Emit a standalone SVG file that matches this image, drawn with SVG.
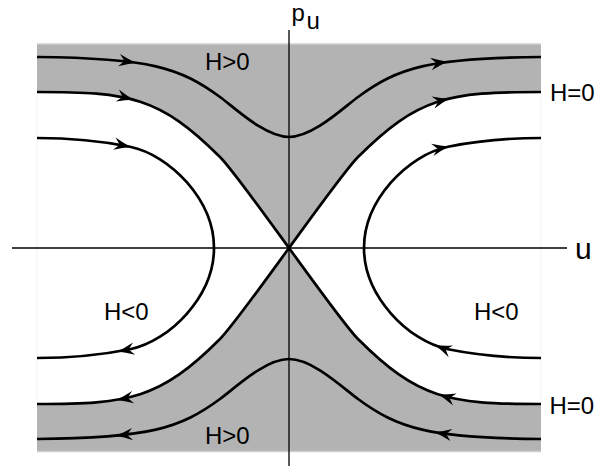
<svg xmlns="http://www.w3.org/2000/svg" xmlns:xlink="http://www.w3.org/1999/xlink" width="600" height="468" viewBox="0 0 600 468">
<style>
.shade{fill:#b3b3b3;stroke:none}
.edge{stroke:#cfcfcf;stroke-width:1.5;fill:none}
.side{stroke:#f2f2f2;stroke-width:1;fill:none}
.axis{stroke:#000;stroke-width:1.3;fill:none}
.curve{stroke:#000;stroke-width:2.7;fill:none;stroke-linejoin:round}
.lbl{font-family:"Liberation Sans",Arial,sans-serif;font-size:24px;fill:#000}
</style>
<defs>
<path id="ah" d="M1,0 Q-7,-2.2 -16,-6.2 L-10.5,0 L-16,6.2 Q-7,2.2 1,0 Z" fill="#000"/>
</defs>
<g id="regions">
<path class="shade" d="M37,44 H541 V92 C448,92 418,97 358,157 C346,169 308,222 289,248 C270,222 232,169 220,157 C160,97 130,92 37,92 Z"/>
<path class="shade" d="M37,451.5 H541 V404 C448,404 418,399 358,339 C346,327 308,274 289,248 C270,274 232,327 220,339 C160,399 130,404 37,404 Z"/>
<line class="edge" x1="37" y1="44" x2="541" y2="44"/>
<line class="edge" x1="37" y1="451.5" x2="541" y2="451.5"/>
<line class="side" x1="37" y1="92" x2="37" y2="404"/>
<line class="side" x1="541" y1="92" x2="541" y2="404"/>
</g>
<g id="axes">
<line class="axis" x1="289" y1="30" x2="289" y2="466"/>
<line class="axis" x1="12" y1="248" x2="567" y2="248"/>
</g>
<g id="connectors">
<path class="curve" d="M37,57 C150,58 180,67.7 220,97 C235,108 265,137 289,137 C313,137 343,108 358,97 C398,67.7 428,58 541,57"/>
<path class="curve" d="M37,92 C130,92 160,97 220,157 C232,169 270,222 289,248 C308,222 346,169 358,157 C418,97 448,92 541,92"/>
<path class="curve" d="M37,138 C60,138 90,138.7 130,146.7 C170,155 214,200 214,248 C214,296 170,341 130,349.3 C90,357.3 60,358 37,358"/>
<path class="curve" d="M541,138 C518,138 488,138.7 448,146.7 C408,155 364,200 364,248 C364,296 408,341 448,349.3 C488,357.3 518,358 541,358"/>
<path class="curve" d="M37,404 C130,404 160,399 220,339 C232,327 270,274 289,248 C308,274 346,327 358,339 C418,399 448,404 541,404"/>
<path class="curve" d="M37,439 C150,438 180,428.3 220,399 C235,388 265,359 289,359 C313,359 343,388 358,399 C398,428.3 428,438 541,439"/>
<use xlink:href="#ah" transform="translate(134.9,62.5) rotate(8.3)"/>
<use xlink:href="#ah" transform="translate(446.8,61.9) rotate(-7.6)"/>
<use xlink:href="#ah" transform="translate(132.8,99.6) rotate(14.8)"/>
<use xlink:href="#ah" transform="translate(448.6,98.8) rotate(-13.6)"/>
<use xlink:href="#ah" transform="translate(130,146.7) rotate(11.3)"/>
<use xlink:href="#ah" transform="translate(448,146.7) rotate(-11.3)"/>
<use xlink:href="#ah" transform="translate(118.3,351.4) rotate(170.1)"/>
<use xlink:href="#ah" transform="translate(435.9,345.7) rotate(200.8)"/>
<use xlink:href="#ah" transform="translate(117.3,399.8) rotate(170.4)"/>
<use xlink:href="#ah" transform="translate(439.5,394.8) rotate(197.1)"/>
<use xlink:href="#ah" transform="translate(116.6,435.7) rotate(174.5)"/>
<use xlink:href="#ah" transform="translate(435.7,432.3) rotate(189.7)"/>
</g>
<g id="labels">
<text class="lbl" x="205" y="69.5">H&gt;0</text>
<text class="lbl" x="205" y="444">H&gt;0</text>
<text class="lbl" x="104" y="320">H&lt;0</text>
<text class="lbl" x="474" y="320">H&lt;0</text>
<text class="lbl" x="550" y="100.5">H=0</text>
<text class="lbl" x="549.5" y="414">H=0</text>
<text class="lbl" x="291.5" y="21">p</text>
<text class="lbl" x="306.5" y="28.5">u</text>
<text class="lbl" x="575" y="259" style="font-size:30px">u</text>
</g>
</svg>
